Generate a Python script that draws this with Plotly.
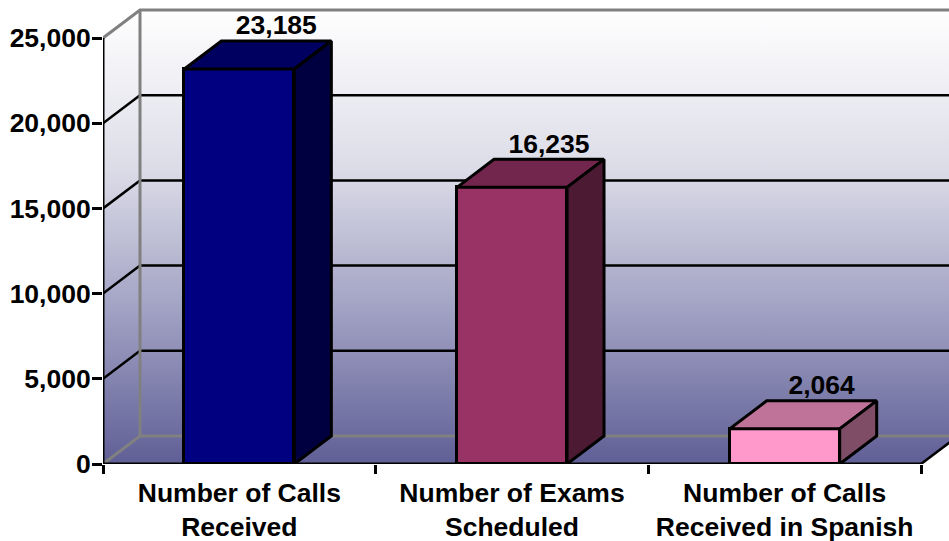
import numpy as np
import plotly.graph_objects as go

categories = ["Number of Calls<br>Received", "Number of Exams<br>Scheduled", "Number of Calls<br>Received in Spanish"]
values = [23185, 16235, 2064]
front_colors = ["#000080", "#993366", "#ff99cc"]
top_colors = ["#000060", "#73264d", "#bf7399"]
side_colors = ["#000040", "#4d1a33", "#804d66"]
y_ticks = [0, 5000, 10000, 15000, 20000, 25000]

W, H = 949, 541
ML, MB = 103, 77
PX_PER_CAT = 272.67
PX_PER_UNIT = 426 / 25000
XMAX = (W - ML) / PX_PER_CAT
YMAX = (H - MB) / PX_PER_UNIT
DX = 37 / PX_PER_CAT
DY = 28 / PX_PER_UNIT
BAR_W = 110 / PX_PER_CAT
N = len(categories)
YTOP = y_ticks[-1]
FONT = "Liberation Sans, Arial, sans-serif"
FS = 26.5
centers = np.arange(N) + 0.5

fig = go.Figure()


def line(xs, ys, color, width, xa="x", ya="y", clip=True):
    fig.add_trace(go.Scatter(x=xs, y=ys, mode="lines", xaxis=xa, yaxis=ya, hoverinfo="skip",
                             showlegend=False, cliponaxis=clip,
                             line=dict(color=color, width=width)))


def poly(xs, ys, color):
    fig.add_trace(go.Scatter(x=xs, y=ys, mode="lines", fill="toself", fillcolor=color,
                             xaxis="x2", yaxis="y2", hoverinfo="skip", showlegend=False,
                             line=dict(color="black", width=3)))


# Walls and floor share one vertical gradient
fig.add_trace(go.Scatter(
    x=[0, 0, DX, N + DX, N + DX, N, 0],
    y=[0, YTOP, YTOP + DY, YTOP + DY, DY, 0, 0],
    mode="lines", fill="toself", line=dict(width=0), hoverinfo="skip", showlegend=False,
    fillgradient=dict(type="vertical",
                      colorscale=[[0, "#5f5f96"], [0.3, "#9a9abf"], [0.65, "#dcdce8"], [1, "#ffffff"]]),
))

# Gridlines on the back wall and left wall
for t in y_ticks[1:-1]:
    line([0, DX, N + DX], [t, t + DY, t + DY], "black", 2.5)
GREY = "#808080"
line([0, DX, N + DX], [YTOP, YTOP + DY, YTOP + DY], GREY, 3)
line([0, DX, N + DX], [0, DY, DY], GREY, 3)
line([DX, DX], [DY, YTOP + DY], GREY, 3)
line([N, N + DX], [0, DY], "black", 2.5)

# Axis lines
line([0, 0], [0, YTOP], "black", 3, clip=False)
line([0, N], [0, 0], "black", 3, clip=False)

# Front faces
fig.add_trace(go.Bar(x=centers, y=values, width=BAR_W, xaxis="x2", yaxis="y2", showlegend=False,
                     marker=dict(color=front_colors, line=dict(color="black", width=3)),
                     hovertext=[c.replace("<br>", " ") for c in categories], hoverinfo="text+y"))

# Top and side faces
for c, v, tc, sc in zip(centers, values, top_colors, side_colors):
    l, r = c - BAR_W / 2, c + BAR_W / 2
    poly([l, l + DX, r + DX, r, l], [v, v + DY, v + DY, v, v], tc)
    poly([r, r + DX, r + DX, r, r], [v, v + DY, DY, 0, v], sc)

# Value labels
fig.add_trace(go.Scatter(
    x=centers + DX, y=np.array(values) + DY, mode="text", xaxis="x2", yaxis="y2",
    text=[f"{v:,}" for v in values], textposition="top center", hoverinfo="skip", showlegend=False,
    textfont=dict(family=FONT, size=FS, color="black", weight="bold"),
))

fig.update_layout(
    width=W, height=H, margin=dict(l=ML, r=0, t=0, b=MB, pad=0, autoexpand=False),
    paper_bgcolor="white", plot_bgcolor="rgba(0,0,0,0)", showlegend=False, bargap=0,
    font=dict(family=FONT, size=FS, color="black", weight="bold"),
    xaxis=dict(range=[0, XMAX], tickvals=list(centers), ticktext=categories, ticks="", automargin=False,
               showgrid=False, zeroline=False, showline=False, ticklabelstandoff=10,
               tickfont=dict(family=FONT, size=FS, color="black", weight="bold"),
               minor=dict(tickmode="array", tickvals=list(range(N + 1)), ticks="outside",
                          ticklen=9, tickwidth=3, tickcolor="black", showgrid=False)),
    yaxis=dict(range=[0, YMAX], tickvals=y_ticks, tickformat=",d", ticks="outside", ticklen=10,
               tickwidth=3, tickcolor="black", showgrid=False, zeroline=False, showline=False,
               ticklabelstandoff=-4, automargin=False,
               tickfont=dict(family=FONT, size=FS, color="black", weight="bold")),
    xaxis2=dict(range=[0, XMAX], overlaying="x", visible=False),
    yaxis2=dict(range=[0, YMAX], overlaying="y", visible=False),
)

fig.write_html("out.html", config=dict(displayModeBar=False),
               post_script="document.body.style.margin='0';")
